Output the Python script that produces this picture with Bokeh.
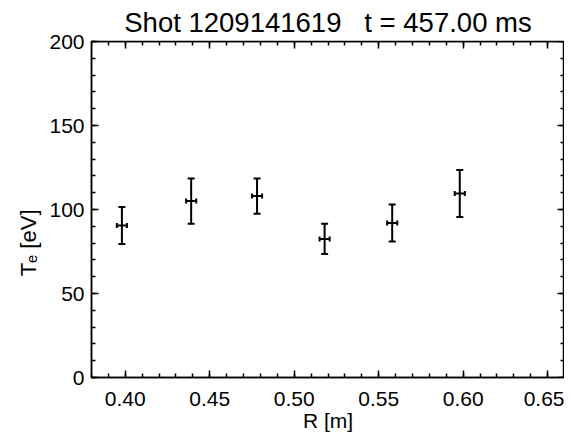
import math
from bokeh.plotting import figure
from bokeh.models import (LinearAxis, SingleIntervalTicker, PrintfTickFormatter,
                          CustomJSTickFormatter, Whisker, TeeHead, ColumnDataSource, Range1d)
from bokeh.embed import file_html
from bokeh.resources import INLINE

# ---- data ----
R = [0.398, 0.439, 0.478, 0.518, 0.558, 0.598]
R_err = [0.003, 0.003, 0.003, 0.003, 0.003, 0.003]
Te = [90.5, 105.0, 108.0, 82.5, 92.0, 109.5]
Te_err = [11.0, 13.5, 10.5, 9.0, 11.0, 14.0]

title_text = "Shot 1209141619 \u00a0 t = 457.00 ms"
x_label = "R [m]"
y_label = "T\u2091 [eV]"
x_range = (0.38, 0.66)
y_range = (0.0, 200.0)

FONT = "Liberation Sans"
W, H = 564, 435

p = figure(width=W, height=H, output_backend="svg", toolbar_location=None,
           x_range=Range1d(*x_range), y_range=Range1d(*y_range),
           min_border=0, min_border_left=90, min_border_right=0,
           min_border_top=40, min_border_bottom=58)
p.grid.visible = False
p.outline_line_color = "black"
p.outline_line_width = 1.5
p.background_fill_color = "white"
p.border_fill_color = "white"

p.title.text = title_text
p.title.align = "center"
p.title.text_font = FONT
p.title.text_font_size = "27.5px"
p.title.text_font_style = "normal"
p.title.text_color = "black"
p.title.standoff = 8
p.title.offset = 0

xt = SingleIntervalTicker(interval=0.05, num_minor_ticks=5)
yt = SingleIntervalTicker(interval=50, num_minor_ticks=5)


def style_axis(ax, show_labels, standoff):
    ax.axis_line_color = "black"
    ax.axis_line_width = 1.5
    ax.major_tick_line_color = "black"
    ax.major_tick_line_width = 1.5
    ax.minor_tick_line_color = "black"
    ax.minor_tick_line_width = 1.5
    ax.major_tick_in = 7
    ax.major_tick_out = 0
    ax.minor_tick_in = 4
    ax.minor_tick_out = 0
    ax.axis_label_standoff = 0
    if show_labels:
        ax.major_label_text_font = FONT
        ax.major_label_text_font_size = "21px"
        ax.major_label_text_color = "black"
        ax.major_label_standoff = standoff
    else:
        ax.formatter = CustomJSTickFormatter(code="return ''")
        ax.major_label_text_font_size = "1px"
        ax.major_label_text_color = None
        ax.major_label_standoff = 0


p.xaxis.ticker = xt
p.xaxis.formatter = PrintfTickFormatter(format="%.2f")
style_axis(p.xaxis[0], True, 14)
p.xaxis.axis_label = x_label
p.xaxis.axis_label_text_font = FONT
p.xaxis.axis_label_text_font_size = "21px"
p.xaxis.axis_label_text_font_style = "normal"
p.xaxis.axis_label_text_color = "black"
p.xaxis.axis_label_standoff = 0

p.yaxis.ticker = yt
p.yaxis.formatter = PrintfTickFormatter(format="%d")
style_axis(p.yaxis[0], True, 7)
p.yaxis.axis_label = y_label
p.yaxis.axis_label_orientation = math.pi / 2
p.yaxis.axis_label_text_font = FONT
p.yaxis.axis_label_text_font_size = "22px"
p.yaxis.axis_label_text_font_style = "normal"
p.yaxis.axis_label_text_color = "black"
p.yaxis.axis_label_standoff = 18

# mirrored ticks on the top and right edges of the frame
top_ax = LinearAxis(ticker=xt, fixed_location=y_range[1])
style_axis(top_ax, False, 0)
p.add_layout(top_ax, "above")
right_ax = LinearAxis(ticker=yt, fixed_location=x_range[1])
style_axis(right_ax, False, 0)
p.add_layout(right_ax, "right")

# ---- error bars ----
src = ColumnDataSource(dict(
    R=R, Te=Te,
    te_lo=[v - e for v, e in zip(Te, Te_err)],
    te_hi=[v + e for v, e in zip(Te, Te_err)],
    r_lo=[v - e for v, e in zip(R, R_err)],
    r_hi=[v + e for v, e in zip(R, R_err)],
))
vw = Whisker(source=src, base="R", lower="te_lo", upper="te_hi", dimension="height",
             line_color="black", line_width=2,
             upper_head=TeeHead(size=7, line_width=2, line_color="black"),
             lower_head=TeeHead(size=7, line_width=2, line_color="black"))
hw = Whisker(source=src, base="Te", lower="r_lo", upper="r_hi", dimension="width",
             line_color="black", line_width=2,
             upper_head=TeeHead(size=5, line_width=2, line_color="black"),
             lower_head=TeeHead(size=5, line_width=2, line_color="black"))
p.add_layout(vw)
p.add_layout(hw)

open("out.html", "w").write(file_html(p, INLINE))
